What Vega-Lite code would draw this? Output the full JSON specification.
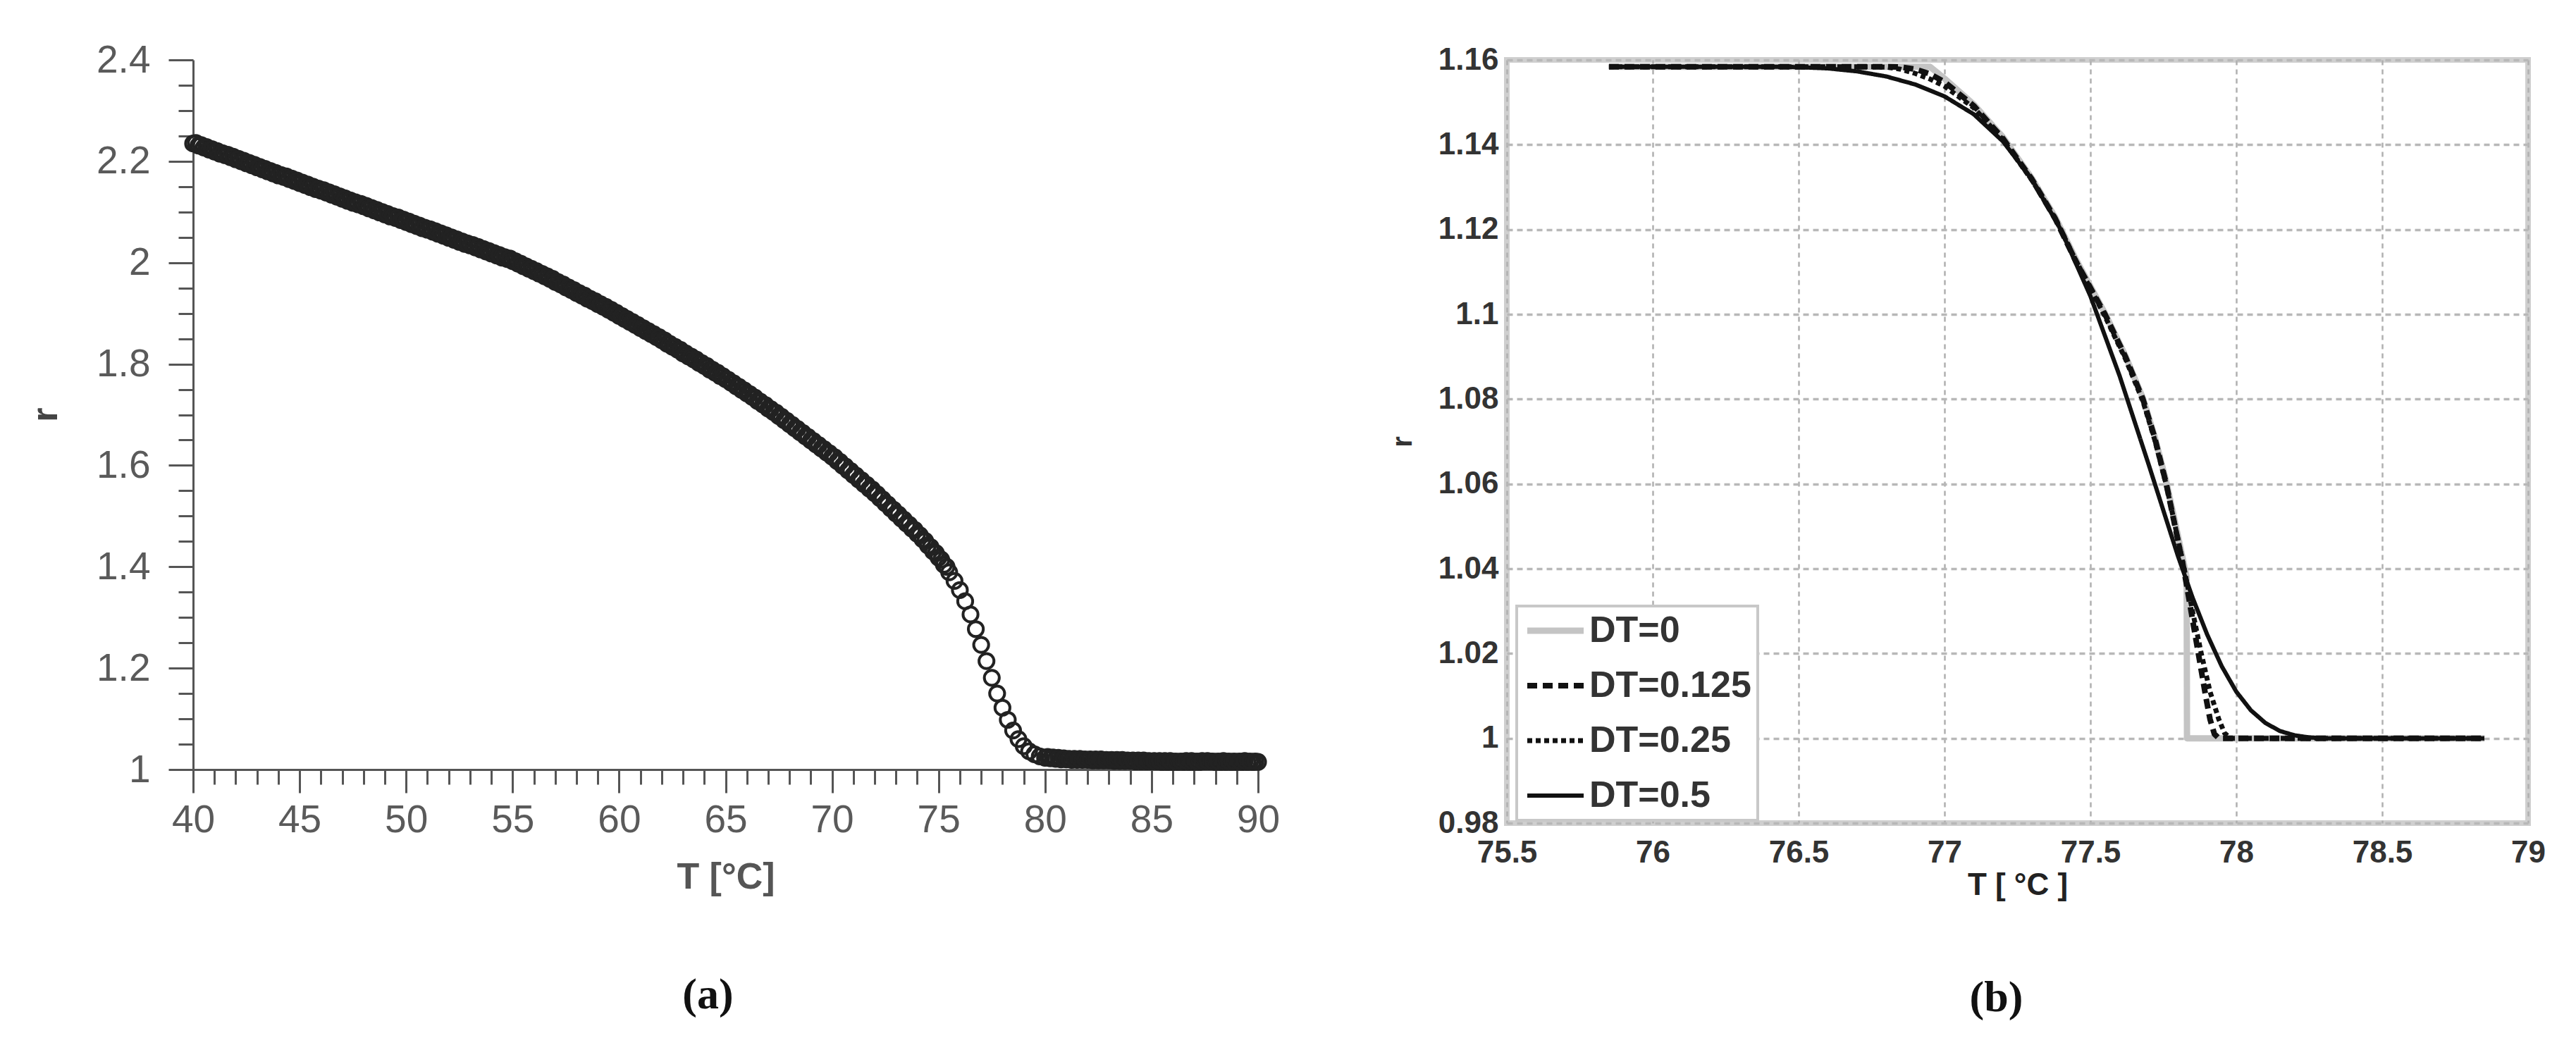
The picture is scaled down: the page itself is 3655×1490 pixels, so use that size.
{
  "$schema": "https://vega.github.io/schema/vega-lite/v6.json",
  "background": "white",
  "padding": {"left": 38, "top": 58, "right": 0, "bottom": 0},
  "bounds": "flush",
  "spacing": 353,
  "config": {"view": {"stroke": null}, "legend": {"strokeWidth": 4}},
  "datasets": {
    "exp": [
      {"T":40,"r":2.235},{"T":40.25,"r":2.231},{"T":40.5,"r":2.227},{"T":40.75,"r":2.223},{"T":41,"r":2.219},{"T":41.25,"r":2.215},{"T":41.5,"r":2.212},{"T":41.75,"r":2.208},
      {"T":42,"r":2.204},{"T":42.25,"r":2.2},{"T":42.5,"r":2.196},{"T":42.75,"r":2.192},{"T":43,"r":2.188},{"T":43.25,"r":2.184},{"T":43.5,"r":2.18},{"T":43.75,"r":2.176},
      {"T":44,"r":2.172},{"T":44.25,"r":2.169},{"T":44.5,"r":2.165},{"T":44.75,"r":2.161},{"T":45,"r":2.157},{"T":45.25,"r":2.153},{"T":45.5,"r":2.149},{"T":45.75,"r":2.145},
      {"T":46,"r":2.142},{"T":46.25,"r":2.138},{"T":46.5,"r":2.134},{"T":46.75,"r":2.13},{"T":47,"r":2.126},{"T":47.25,"r":2.122},{"T":47.5,"r":2.118},{"T":47.75,"r":2.115},
      {"T":48,"r":2.111},{"T":48.25,"r":2.107},{"T":48.5,"r":2.103},{"T":48.75,"r":2.099},{"T":49,"r":2.095},{"T":49.25,"r":2.091},{"T":49.5,"r":2.088},{"T":49.75,"r":2.084},
      {"T":50,"r":2.08},{"T":50.25,"r":2.076},{"T":50.5,"r":2.072},{"T":50.75,"r":2.068},{"T":51,"r":2.065},{"T":51.25,"r":2.061},{"T":51.5,"r":2.057},{"T":51.75,"r":2.053},
      {"T":52,"r":2.049},{"T":52.25,"r":2.045},{"T":52.5,"r":2.041},{"T":52.75,"r":2.037},{"T":53,"r":2.034},{"T":53.25,"r":2.03},{"T":53.5,"r":2.026},{"T":53.75,"r":2.022},
      {"T":54,"r":2.018},{"T":54.25,"r":2.014},{"T":54.5,"r":2.01},{"T":54.75,"r":2.007},{"T":55,"r":2.003},{"T":55.25,"r":1.998},{"T":55.5,"r":1.993},{"T":55.75,"r":1.988},
      {"T":56,"r":1.983},{"T":56.25,"r":1.978},{"T":56.5,"r":1.973},{"T":56.75,"r":1.968},{"T":57,"r":1.962},{"T":57.25,"r":1.957},{"T":57.5,"r":1.951},{"T":57.75,"r":1.946},
      {"T":58,"r":1.94},{"T":58.25,"r":1.935},{"T":58.5,"r":1.929},{"T":58.75,"r":1.924},{"T":59,"r":1.918},{"T":59.25,"r":1.913},{"T":59.5,"r":1.907},{"T":59.75,"r":1.901},
      {"T":60,"r":1.895},{"T":60.25,"r":1.889},{"T":60.5,"r":1.883},{"T":60.75,"r":1.877},{"T":61,"r":1.871},{"T":61.25,"r":1.865},{"T":61.5,"r":1.859},{"T":61.75,"r":1.853},
      {"T":62,"r":1.847},{"T":62.25,"r":1.84},{"T":62.5,"r":1.834},{"T":62.75,"r":1.828},{"T":63,"r":1.821},{"T":63.25,"r":1.815},{"T":63.5,"r":1.809},{"T":63.75,"r":1.802},
      {"T":64,"r":1.796},{"T":64.25,"r":1.789},{"T":64.5,"r":1.783},{"T":64.75,"r":1.776},{"T":65,"r":1.77},{"T":65.25,"r":1.763},{"T":65.5,"r":1.756},{"T":65.75,"r":1.749},
      {"T":66,"r":1.742},{"T":66.25,"r":1.735},{"T":66.5,"r":1.727},{"T":66.75,"r":1.72},{"T":67,"r":1.712},{"T":67.25,"r":1.705},{"T":67.5,"r":1.697},{"T":67.75,"r":1.689},
      {"T":68,"r":1.681},{"T":68.25,"r":1.673},{"T":68.5,"r":1.665},{"T":68.75,"r":1.657},{"T":69,"r":1.649},{"T":69.25,"r":1.641},{"T":69.5,"r":1.633},{"T":69.75,"r":1.625},
      {"T":70,"r":1.617},{"T":70.25,"r":1.608},{"T":70.5,"r":1.599},{"T":70.75,"r":1.59},{"T":71,"r":1.581},{"T":71.25,"r":1.572},{"T":71.5,"r":1.563},{"T":71.75,"r":1.554},
      {"T":72,"r":1.545},{"T":72.25,"r":1.535},{"T":72.5,"r":1.525},{"T":72.75,"r":1.515},{"T":73,"r":1.505},{"T":73.25,"r":1.495},{"T":73.5,"r":1.485},{"T":73.75,"r":1.475},
      {"T":74,"r":1.465},{"T":74.25,"r":1.454},{"T":74.5,"r":1.442},{"T":74.75,"r":1.43},{"T":75,"r":1.418},{"T":75.25,"r":1.404},{"T":75.5,"r":1.389},{"T":75.75,"r":1.372},
      {"T":76,"r":1.354},{"T":76.25,"r":1.332},{"T":76.5,"r":1.306},{"T":76.75,"r":1.277},{"T":77,"r":1.246},{"T":77.25,"r":1.214},{"T":77.5,"r":1.181},{"T":77.75,"r":1.15},
      {"T":78,"r":1.122},{"T":78.25,"r":1.098},{"T":78.5,"r":1.077},{"T":78.75,"r":1.06},{"T":79,"r":1.046},{"T":79.25,"r":1.036},{"T":79.5,"r":1.03},{"T":79.75,"r":1.026},
      {"T":80,"r":1.023},{"T":80.25,"r":1.022},{"T":80.5,"r":1.021},{"T":80.75,"r":1.02},{"T":81,"r":1.02},{"T":81.25,"r":1.019},{"T":81.5,"r":1.019},{"T":81.75,"r":1.019},
      {"T":82,"r":1.019},{"T":82.25,"r":1.018},{"T":82.5,"r":1.018},{"T":82.75,"r":1.018},{"T":83,"r":1.018},{"T":83.25,"r":1.017},{"T":83.5,"r":1.017},{"T":83.75,"r":1.017},
      {"T":84,"r":1.017},{"T":84.25,"r":1.016},{"T":84.5,"r":1.016},{"T":84.75,"r":1.016},{"T":85,"r":1.016},{"T":85.25,"r":1.016},{"T":85.5,"r":1.015},{"T":85.75,"r":1.015},
      {"T":86,"r":1.015},{"T":86.25,"r":1.015},{"T":86.5,"r":1.015},{"T":86.75,"r":1.015},{"T":87,"r":1.015},{"T":87.25,"r":1.015},{"T":87.5,"r":1.016},{"T":87.75,"r":1.016},
      {"T":88,"r":1.015},{"T":88.25,"r":1.015},{"T":88.5,"r":1.015},{"T":88.75,"r":1.015},{"T":89,"r":1.015},{"T":89.25,"r":1.015},{"T":89.5,"r":1.015},{"T":89.75,"r":1.015},
      {"T":90,"r":1.015},

      {"T":40.125,"r":2.236},{"T":40.375,"r":2.232},{"T":40.625,"r":2.228},{"T":40.875,"r":2.224},{"T":41.125,"r":2.22},{"T":41.375,"r":2.216},{"T":41.625,"r":2.213},{"T":41.875,"r":2.209},
      {"T":42.125,"r":2.205},{"T":42.375,"r":2.201},{"T":42.625,"r":2.197},{"T":42.875,"r":2.193},{"T":43.125,"r":2.189},{"T":43.375,"r":2.185},{"T":43.625,"r":2.181},{"T":43.875,"r":2.177},
      {"T":44.125,"r":2.173},{"T":44.375,"r":2.17},{"T":44.625,"r":2.166},{"T":44.875,"r":2.162},{"T":45.125,"r":2.158},{"T":45.375,"r":2.154},{"T":45.625,"r":2.15},{"T":45.875,"r":2.146},
      {"T":46.125,"r":2.143},{"T":46.375,"r":2.139},{"T":46.625,"r":2.135},{"T":46.875,"r":2.131},{"T":47.125,"r":2.127},{"T":47.375,"r":2.123},{"T":47.625,"r":2.119},{"T":47.875,"r":2.116},
      {"T":48.125,"r":2.112},{"T":48.375,"r":2.108},{"T":48.625,"r":2.104},{"T":48.875,"r":2.1},{"T":49.125,"r":2.096},{"T":49.375,"r":2.092},{"T":49.625,"r":2.089},{"T":49.875,"r":2.085},
      {"T":50.125,"r":2.081},{"T":50.375,"r":2.077},{"T":50.625,"r":2.073},{"T":50.875,"r":2.069},{"T":51.125,"r":2.066},{"T":51.375,"r":2.062},{"T":51.625,"r":2.058},{"T":51.875,"r":2.054},
      {"T":52.125,"r":2.05},{"T":52.375,"r":2.046},{"T":52.625,"r":2.042},{"T":52.875,"r":2.038},{"T":53.125,"r":2.035},{"T":53.375,"r":2.031},{"T":53.625,"r":2.027},{"T":53.875,"r":2.023},
      {"T":54.125,"r":2.019},{"T":54.375,"r":2.015},{"T":54.625,"r":2.011},{"T":54.875,"r":2.008},{"T":55.125,"r":2.003},{"T":55.375,"r":1.998},{"T":55.625,"r":1.993},{"T":55.875,"r":1.988},
      {"T":56.125,"r":1.983},{"T":56.375,"r":1.978},{"T":56.625,"r":1.973},{"T":56.875,"r":1.968},{"T":57.125,"r":1.962},{"T":57.375,"r":1.957},{"T":57.625,"r":1.951},{"T":57.875,"r":1.946},
      {"T":58.125,"r":1.94},{"T":58.375,"r":1.935},{"T":58.625,"r":1.929},{"T":58.875,"r":1.924},{"T":59.125,"r":1.918},{"T":59.375,"r":1.913},{"T":59.625,"r":1.907},{"T":59.875,"r":1.901},
      {"T":60.125,"r":1.895},{"T":60.375,"r":1.889},{"T":60.625,"r":1.883},{"T":60.875,"r":1.877},{"T":61.125,"r":1.871},{"T":61.375,"r":1.865},{"T":61.625,"r":1.859},{"T":61.875,"r":1.853},
      {"T":62.125,"r":1.847},{"T":62.375,"r":1.84},{"T":62.625,"r":1.834},{"T":62.875,"r":1.828},{"T":63.125,"r":1.821},{"T":63.375,"r":1.815},{"T":63.625,"r":1.809},{"T":63.875,"r":1.802},
      {"T":64.125,"r":1.796},{"T":64.375,"r":1.789},{"T":64.625,"r":1.783},{"T":64.875,"r":1.776},{"T":65.125,"r":1.769},{"T":65.375,"r":1.762},{"T":65.625,"r":1.755},{"T":65.875,"r":1.748},
      {"T":66.125,"r":1.741},{"T":66.375,"r":1.734},{"T":66.625,"r":1.726},{"T":66.875,"r":1.719},{"T":67.125,"r":1.711},{"T":67.375,"r":1.704},{"T":67.625,"r":1.696},{"T":67.875,"r":1.688},
      {"T":68.125,"r":1.68},{"T":68.375,"r":1.672},{"T":68.625,"r":1.664},{"T":68.875,"r":1.656},{"T":69.125,"r":1.648},{"T":69.375,"r":1.64},{"T":69.625,"r":1.632},{"T":69.875,"r":1.624},
      {"T":70.125,"r":1.616},{"T":70.375,"r":1.607},{"T":70.625,"r":1.598},{"T":70.875,"r":1.589},{"T":71.125,"r":1.58},{"T":71.375,"r":1.571},{"T":71.625,"r":1.562},{"T":71.875,"r":1.553},
      {"T":72.125,"r":1.543},{"T":72.375,"r":1.533},{"T":72.625,"r":1.523},{"T":72.875,"r":1.513},{"T":73.125,"r":1.503},{"T":73.375,"r":1.493},{"T":73.625,"r":1.483},{"T":73.875,"r":1.473},
      {"T":74.125,"r":1.462},{"T":74.375,"r":1.451},{"T":74.625,"r":1.439},{"T":74.875,"r":1.427},{"T":75.125,"r":1.414},{"T":75.375,"r":1.4},

      {"T":80.125,"r":1.025},{"T":80.375,"r":1.024},{"T":80.625,"r":1.023},{"T":80.875,"r":1.022},{"T":81.125,"r":1.021},{"T":81.375,"r":1.021},{"T":81.625,"r":1.021},{"T":81.875,"r":1.02},
      {"T":82.125,"r":1.02},{"T":82.375,"r":1.02},{"T":82.625,"r":1.02},{"T":82.875,"r":1.019},{"T":83.125,"r":1.019},{"T":83.375,"r":1.019},{"T":83.625,"r":1.019},{"T":83.875,"r":1.018},
      {"T":84.125,"r":1.018},{"T":84.375,"r":1.018},{"T":84.625,"r":1.018},{"T":84.875,"r":1.017},{"T":85.125,"r":1.017},{"T":85.375,"r":1.017},{"T":85.625,"r":1.017},{"T":85.875,"r":1.017},
      {"T":86.125,"r":1.016},{"T":86.375,"r":1.016},{"T":86.625,"r":1.017},{"T":86.875,"r":1.017},{"T":87.125,"r":1.016},{"T":87.375,"r":1.017},{"T":87.625,"r":1.017},{"T":87.875,"r":1.016},
      {"T":88.125,"r":1.016},{"T":88.375,"r":1.017},{"T":88.625,"r":1.016},{"T":88.875,"r":1.016},{"T":89.125,"r":1.016},{"T":89.375,"r":1.017},{"T":89.625,"r":1.016},{"T":89.875,"r":1.016}
    ],
    "sim": [
      {"DT":"DT=0","T":75.85,"r":1.1584},{"DT":"DT=0","T":76.95,"r":1.1584},{"DT":"DT=0","T":77.0,"r":1.1556},{"DT":"DT=0","T":77.1,"r":1.1495},
      {"DT":"DT=0","T":77.2,"r":1.1418},{"DT":"DT=0","T":77.3,"r":1.132},{"DT":"DT=0","T":77.38,"r":1.1228},{"DT":"DT=0","T":77.45,"r":1.113},
      {"DT":"DT=0","T":77.55,"r":1.1002},{"DT":"DT=0","T":77.62,"r":1.0902},{"DT":"DT=0","T":77.68,"r":1.0802},{"DT":"DT=0","T":77.72,"r":1.0712},
      {"DT":"DT=0","T":77.76,"r":1.0605},{"DT":"DT=0","T":77.79,"r":1.051},{"DT":"DT=0","T":77.83,"r":1.038},{"DT":"DT=0","T":77.831,"r":1.0},
      {"DT":"DT=0","T":78.85,"r":1.0},

      {"DT":"DT=0.125","T":75.85,"r":1.1584},{"DT":"DT=0.125","T":76.8,"r":1.1584},{"DT":"DT=0.125","T":76.85,"r":1.1583},{"DT":"DT=0.125","T":76.9,"r":1.1578},
      {"DT":"DT=0.125","T":76.95,"r":1.1567},{"DT":"DT=0.125","T":77.0,"r":1.1548},{"DT":"DT=0.125","T":77.1,"r":1.1492},{"DT":"DT=0.125","T":77.2,"r":1.1415},
      {"DT":"DT=0.125","T":77.3,"r":1.1318},{"DT":"DT=0.125","T":77.38,"r":1.1225},{"DT":"DT=0.125","T":77.45,"r":1.1125},{"DT":"DT=0.125","T":77.55,"r":1.1},
      {"DT":"DT=0.125","T":77.62,"r":1.09},{"DT":"DT=0.125","T":77.68,"r":1.08},{"DT":"DT=0.125","T":77.72,"r":1.071},{"DT":"DT=0.125","T":77.76,"r":1.06},
      {"DT":"DT=0.125","T":77.79,"r":1.05},{"DT":"DT=0.125","T":77.82,"r":1.04},{"DT":"DT=0.125","T":77.845,"r":1.03},{"DT":"DT=0.125","T":77.87,"r":1.02},
      {"DT":"DT=0.125","T":77.895,"r":1.01},{"DT":"DT=0.125","T":77.91,"r":1.0045},{"DT":"DT=0.125","T":77.925,"r":1.001},{"DT":"DT=0.125","T":77.94,"r":1.0},
      {"DT":"DT=0.125","T":78.85,"r":1.0},

      {"DT":"DT=0.25","T":75.85,"r":1.1584},{"DT":"DT=0.25","T":76.75,"r":1.1584},{"DT":"DT=0.25","T":76.8,"r":1.1583},{"DT":"DT=0.25","T":76.85,"r":1.1578},
      {"DT":"DT=0.25","T":76.9,"r":1.1568},{"DT":"DT=0.25","T":76.95,"r":1.1555},{"DT":"DT=0.25","T":77.0,"r":1.1538},{"DT":"DT=0.25","T":77.1,"r":1.1487},
      {"DT":"DT=0.25","T":77.2,"r":1.1412},{"DT":"DT=0.25","T":77.3,"r":1.1316},{"DT":"DT=0.25","T":77.38,"r":1.1225},{"DT":"DT=0.25","T":77.45,"r":1.1127},
      {"DT":"DT=0.25","T":77.55,"r":1.0995},{"DT":"DT=0.25","T":77.62,"r":1.0895},{"DT":"DT=0.25","T":77.68,"r":1.0795},{"DT":"DT=0.25","T":77.72,"r":1.0705},
      {"DT":"DT=0.25","T":77.76,"r":1.0598},{"DT":"DT=0.25","T":77.79,"r":1.0502},{"DT":"DT=0.25","T":77.82,"r":1.0405},{"DT":"DT=0.25","T":77.85,"r":1.03},
      {"DT":"DT=0.25","T":77.88,"r":1.02},{"DT":"DT=0.25","T":77.91,"r":1.011},{"DT":"DT=0.25","T":77.94,"r":1.0045},{"DT":"DT=0.25","T":77.96,"r":1.0012},
      {"DT":"DT=0.25","T":77.98,"r":1.0},{"DT":"DT=0.25","T":78.85,"r":1.0},

      {"DT":"DT=0.5","T":75.85,"r":1.1584},{"DT":"DT=0.5","T":76.4,"r":1.1584},{"DT":"DT=0.5","T":76.5,"r":1.1583},{"DT":"DT=0.5","T":76.6,"r":1.158},
      {"DT":"DT=0.5","T":76.7,"r":1.1573},{"DT":"DT=0.5","T":76.8,"r":1.1561},{"DT":"DT=0.5","T":76.9,"r":1.1542},{"DT":"DT=0.5","T":77.0,"r":1.1514},
      {"DT":"DT=0.5","T":77.1,"r":1.1472},{"DT":"DT=0.5","T":77.2,"r":1.1408},{"DT":"DT=0.5","T":77.3,"r":1.1318},{"DT":"DT=0.5","T":77.4,"r":1.1198},
      {"DT":"DT=0.5","T":77.5,"r":1.1043},{"DT":"DT=0.5","T":77.6,"r":1.0855},{"DT":"DT=0.5","T":77.7,"r":1.0645},{"DT":"DT=0.5","T":77.8,"r":1.043},
      {"DT":"DT=0.5","T":77.85,"r":1.0332},{"DT":"DT=0.5","T":77.9,"r":1.0245},{"DT":"DT=0.5","T":77.95,"r":1.017},{"DT":"DT=0.5","T":78.0,"r":1.011},
      {"DT":"DT=0.5","T":78.05,"r":1.0066},{"DT":"DT=0.5","T":78.1,"r":1.0036},{"DT":"DT=0.5","T":78.15,"r":1.0017},{"DT":"DT=0.5","T":78.2,"r":1.0007},
      {"DT":"DT=0.5","T":78.25,"r":1.0002},{"DT":"DT=0.5","T":78.3,"r":1.0},{"DT":"DT=0.5","T":78.85,"r":1.0}
    ]
  },
  "hconcat": [
    {
      "width": 1511,
      "height": 1007,
      "data": {"name": "exp"},
      "title": {"text": "(a)", "orient": "bottom", "anchor": "middle", "dx": -25, "offset": 112, "font": "Liberation Serif", "fontSize": 62, "fontWeight": "bold", "color": "#111"},
      "mark": {"type": "point", "filled": false, "size": 450, "strokeWidth": 4, "color": "#222", "opacity": 1},
      "encoding": {
        "x": {
          "field": "T", "type": "quantitative",
          "scale": {"domain": [40, 90], "nice": false, "zero": false},
          "axis": {
            "title": "T [°C]",
            "values": [40,41,42,43,44,45,46,47,48,49,50,51,52,53,54,55,56,57,58,59,60,61,62,63,64,65,66,67,68,69,70,71,72,73,74,75,76,77,78,79,80,81,82,83,84,85,86,87,88,89,90],
            "labelExpr": "datum.value % 5 === 0 ? format(datum.value, 'd') : ''",
            "tickSize": {"condition": {"test": "datum.value % 5 === 0", "value": 33}, "value": 21},
            "grid": false,
            "domainColor": "#555", "domainWidth": 3,
            "tickColor": "#555", "tickWidth": 3,
            "labelFont": "Liberation Sans", "labelFontSize": 55, "labelColor": "#5a5a5a",
            "labelPadding": 12, "labelOverlap": false, "labelFlush": false,
            "titleFont": "Liberation Sans", "titleFontSize": 52, "titleFontWeight": "bold", "titleColor": "#555",
            "titlePadding": 28
          }
        },
        "y": {
          "field": "r", "type": "quantitative",
          "scale": {"domain": [1, 2.4], "nice": false, "zero": false},
          "axis": {
            "title": "r",
            "values": [1,1.05,1.1,1.15,1.2,1.25,1.3,1.35,1.4,1.45,1.5,1.55,1.6,1.65,1.7,1.75,1.8,1.85,1.9,1.95,2,2.05,2.1,2.15,2.2,2.25,2.3,2.35,2.4],
            "labelExpr": "abs(datum.value*5 - round(datum.value*5)) < 0.001 ? format(datum.value, '.1~f') : ''",
            "tickSize": {"condition": {"test": "abs(datum.value*5 - round(datum.value*5)) < 0.001", "value": 35}, "value": 21},
            "grid": false,
            "domainColor": "#555", "domainWidth": 3,
            "tickColor": "#555", "tickWidth": 3,
            "labelFont": "Liberation Sans", "labelFontSize": 55, "labelColor": "#5a5a5a",
            "labelPadding": 26, "labelOverlap": false, "labelFlush": false,
            "titleFont": "Liberation Sans", "titleFontSize": 52, "titleFontWeight": "bold", "titleColor": "#444",
            "titleX": -194, "titleY": 503, "titleAngle": -90, "titleBaseline": "alphabetic", "titleAlign": "center"
          }
        }
      }
    },
    {
      "width": 1449,
      "height": 1083,
      "view": {"stroke": "#cfcfcf", "strokeWidth": 8},
      "data": {"name": "sim"},
      "title": {"text": "(b)", "orient": "bottom", "anchor": "middle", "dx": -30, "offset": 108, "font": "Liberation Serif", "fontSize": 62, "fontWeight": "bold", "color": "#111"},
      "mark": {"type": "line", "strokeCap": "butt", "strokeJoin": "round"},
      "encoding": {
        "x": {
          "field": "T", "type": "quantitative",
          "scale": {"domain": [75.5, 79], "nice": false, "zero": false},
          "axis": {
            "title": "T [ °C ]",
            "values": [75.5,76,76.5,77,77.5,78,78.5,79],
            "format": ".1~f",
            "domain": false, "ticks": false,
            "grid": true, "gridColor": "#b0b0b0", "gridDash": [7, 6], "gridWidth": 2.5,
            "labelFont": "Liberation Sans Narrow, Liberation Sans, sans-serif", "labelFontSize": 44, "labelFontWeight": "bold", "labelColor": "#333",
            "labelPadding": 20, "labelOverlap": false, "labelFlush": false,
            "titleFont": "Liberation Sans", "titleFontSize": 44, "titleFontWeight": "bold", "titleColor": "#222",
            "titlePadding": 2
          }
        },
        "y": {
          "field": "r", "type": "quantitative",
          "scale": {"domain": [0.98, 1.16], "nice": false, "zero": false},
          "axis": {
            "title": "r",
            "values": [0.98,1,1.02,1.04,1.06,1.08,1.1,1.12,1.14,1.16],
            "format": ".2~f",
            "domain": false, "ticks": false,
            "grid": true, "gridColor": "#b8b8b8", "gridDash": [8, 6], "gridWidth": 3.5,
            "labelFont": "Liberation Sans Narrow, Liberation Sans, sans-serif", "labelFontSize": 44, "labelFontWeight": "bold", "labelColor": "#333",
            "labelPadding": 12, "labelOverlap": false, "labelFlush": false,
            "titleFont": "Liberation Sans", "titleFontSize": 40, "titleFontWeight": "bold", "titleColor": "#333",
            "titlePadding": 30
          }
        },
        "color": {
          "field": "DT", "type": "nominal",
          "scale": {"domain": ["DT=0", "DT=0.125", "DT=0.25", "DT=0.5"], "range": ["#c4c4c4", "#111111", "#111111", "#111111"]},
          "legend": {
            "title": null, "orient": "none", "legendX": 1878, "legendY": 775,
            "symbolType": "M-1,0H3", "symbolSize": 1600,
            "labelFont": "Liberation Sans Narrow, Liberation Sans, sans-serif", "labelFontSize": 52, "labelFontWeight": "bold", "labelColor": "#333",
            "labelOffset": 42, "rowPadding": 26, "padding": 9, "labelLimit": 500,
            "fillColor": "white", "strokeColor": "#c8c8c8"
          }
        },
        "strokeDash": {
          "field": "DT", "type": "nominal",
          "scale": {"domain": ["DT=0", "DT=0.125", "DT=0.25", "DT=0.5"], "range": [[1, 0], [14, 8], [7, 5], [1, 0]]}
        },
        "strokeWidth": {
          "field": "DT", "type": "nominal",
          "scale": {"domain": ["DT=0", "DT=0.125", "DT=0.25", "DT=0.5"], "range": [9, 6, 6, 6]}
        }
      }
    }
  ]
}
